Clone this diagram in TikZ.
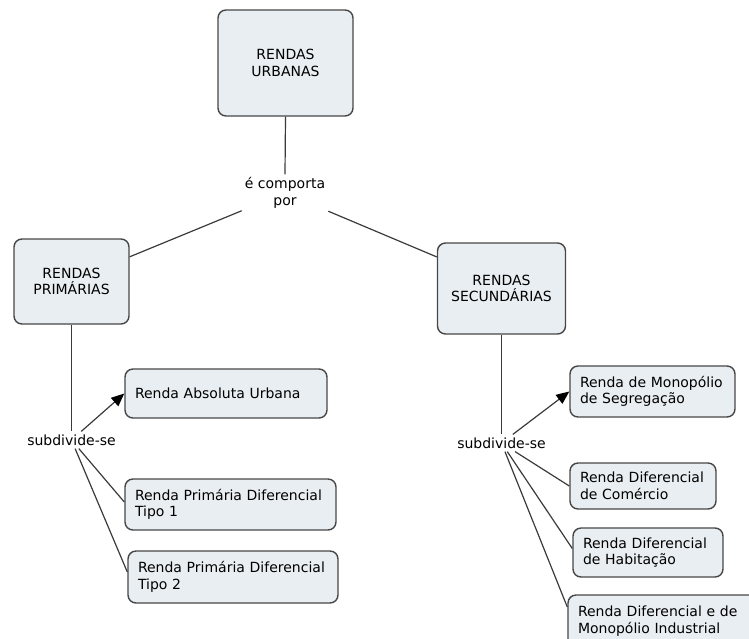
\documentclass[tikz,border=0pt]{standalone}
\usepackage{fontspec}
\setmainfont{DejaVu Sans}
\usetikzlibrary{arrows.meta}
\definecolor{boxfill}{HTML}{E9EEF2}
\definecolor{boxline}{HTML}{474747}
\definecolor{linkc}{HTML}{3A3A3A}
\begin{document}
\begin{tikzpicture}[x=1pt,y=-1pt,
  box/.style={draw=boxline, fill=boxfill, line width=1.4pt, rounded corners=8pt, font=\fontsize{14}{16.5}\selectfont},
  cbox/.style={box, align=center, inner sep=0pt},
  lbox/.style={box, align=left, inner xsep=10pt, inner ysep=0pt},
  lab/.style={font=\fontsize{14}{17}\selectfont, align=center, inner sep=3pt},
  link/.style={draw=linkc, line width=1.2pt},
  arr/.style={link, -{Triangle[length=13pt,width=11pt,color=black]}}]
\useasboundingbox (0,0) rectangle (749,638);
\clip (0,0) rectangle (749,638);

\node[cbox, minimum width=135pt, minimum height=106pt] (urb) at (285.5,63) {RENDAS\\URBANAS};
\node[lab] (comp) at (285,193) {é comporta\\por};
\node[cbox, minimum width=115pt, minimum height=85pt] (prim) at (71.5,281.5) {RENDAS\\PRIMÁRIAS};
\node[cbox, minimum width=128pt, minimum height=91pt] (sec) at (501.5,288.5) {RENDAS\\SECUNDÁRIAS};
\node[lab] (sub1) at (71.5,440) {subdivide-se};
\node[lab] (sub2) at (501.5,443) {subdivide-se};

\node[lbox, text width=182pt, minimum height=49pt] (abs) at (226,393.5) {Renda Absoluta Urbana};
\node[lbox, text width=191pt, minimum height=51pt] (t1) at (230.5,504.5) {Renda Primária Diferencial\\Tipo 1};
\node[lbox, text width=190pt, minimum height=52pt] (t2) at (233,577) {Renda Primária Diferencial\\Tipo 2};

\node[lbox, text width=145pt, minimum height=51pt] (mon) at (652.5,391.5) {Renda de Monopólio\\de Segregação};
\node[lbox, text width=126pt, minimum height=46pt] (com) at (643,486) {Renda Diferencial\\de Comércio};
\node[lbox, text width=130pt, minimum height=49pt] (hab) at (648,552.5) {Renda Diferencial\\de Habitação};
\node[lbox, text width=182pt, minimum height=52pt] (ind) at (669,621) {Renda Diferencial e de\\Monopólio Industrial};

\draw[link] (urb.south) -- (comp.north);
\draw[link] (comp) -- (prim.23);
\draw[link] (comp) -- (sec.154);
\draw[link] (prim) -- (sub1);
\draw[arr] (sub1) -- (abs.west);
\draw[link] (sub1) -- ([yshift=2.5pt]t1.west);
\draw[link] (sub1) -- ([yshift=5pt]t2.west);
\draw[link] (sec) -- (sub2);
\draw[arr] (sub2) -- (mon.west);
\draw[link] (sub2) -- (com.west);
\draw[link] (sub2) -- ([yshift=4pt]hab.west);
\draw[link] (sub2) -- ([yshift=14pt]ind.west);
\end{tikzpicture}
\end{document}
